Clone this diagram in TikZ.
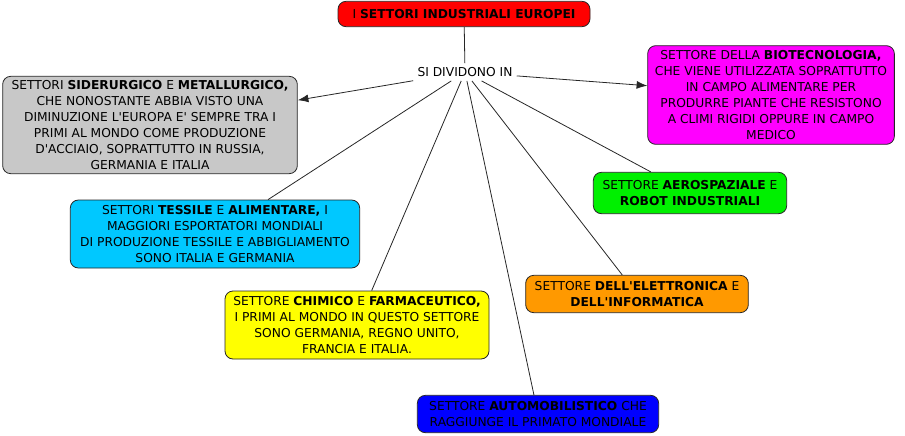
\documentclass[tikz,border=0pt]{standalone}
\usepackage{fontspec}
\setmainfont{DejaVu Sans}[Ligatures=TeXOff]
\usetikzlibrary{positioning,arrows.meta}

\definecolor{sectred}{RGB}{255,0,0}
\definecolor{sectgrey}{RGB}{200,200,200}
\definecolor{sectmagenta}{RGB}{255,0,255}
\definecolor{sectcyan}{RGB}{0,200,255}
\definecolor{sectgreen}{RGB}{0,240,0}
\definecolor{sectyellow}{RGB}{255,255,0}
\definecolor{sectorange}{RGB}{255,153,0}
\definecolor{sectblue}{RGB}{0,0,255}

\tikzset{
    sector/.style={draw=black!85, line width=0.6pt, rounded corners=6pt, align=center,
        font=\fontsize{9.2}{12}\selectfont, inner sep=1pt},
    link/.style={line width=0.6pt, draw=black!85},
    tip/.style={link, -{Latex[length=8pt,width=6pt]}}
}

\begin{document}
\begin{tikzpicture}[x=0.75pt,y=-0.75pt]
        \useasboundingbox (0,0) rectangle (905,435);
        \node[sector, fill=sectred, minimum width=189pt, minimum height=19pt] (title) at (464,14)
            {I \textbf{SETTORI INDUSTRIALI EUROPEI}};
        \node[font=\fontsize{9.2}{12}\selectfont, inner sep=3pt] (divide) at (465,72) {SI DIVIDONO IN};
        \node[sector, fill=sectgrey, minimum width=221pt, minimum height=73pt] (metal) at (150,125)
            {SETTORI \textbf{SIDERURGICO} E \textbf{METALLURGICO,}\\ CHE NONOSTANTE ABBIA VISTO UNA\\
             DIMINUZIONE L'EUROPA E' SEMPRE TRA I\\ PRIMI AL MONDO COME PRODUZIONE\\
             D'ACCIAIO, SOPRATTUTTO IN RUSSIA,\\ GERMANIA E ITALIA};
        \node[sector, fill=sectmagenta, minimum width=185pt, minimum height=74pt] (biotech) at (771,95)
            {SETTORE DELLA \textbf{BIOTECNOLOGIA,}\\ CHE VIENE UTILIZZATA SOPRATTUTTO\\
             IN CAMPO ALIMENTARE PER\\ PRODURRE PIANTE CHE RESISTONO\\
             A CLIMI RIGIDI OPPURE IN CAMPO\\ MEDICO};
        \node[sector, fill=sectcyan, minimum width=217pt, minimum height=51pt] (textile) at (215,234)
            {SETTORI \textbf{TESSILE} E \textbf{ALIMENTARE,} I\\ MAGGIORI ESPORTATORI MONDIALI\\
             DI PRODUZIONE TESSILE E ABBIGLIAMENTO\\ SONO ITALIA E GERMANIA};
        \node[sector, fill=sectgreen, minimum width=145pt, minimum height=31pt] (aero) at (690,193)
            {SETTORE \textbf{AEROSPAZIALE} E\\ \textbf{ROBOT INDUSTRIALI}};
        \node[sector, fill=sectyellow, minimum width=198pt, minimum height=51pt] (chem) at (357,325)
            {SETTORE \textbf{CHIMICO} E \textbf{FARMACEUTICO,}\\ I PRIMI AL MONDO IN QUESTO SETTORE\\
             SONO GERMANIA, REGNO UNITO,\\ FRANCIA E ITALIA.};
        \node[sector, fill=sectorange, minimum width=167pt, minimum height=28pt] (elec) at (637,294)
            {SETTORE \textbf{DELL'ELETTRONICA} E\\ \textbf{DELL'INFORMATICA}};
        \node[sector, fill=sectblue, minimum width=181pt, minimum height=28pt] (auto) at (538,414)
            {SETTORE \textbf{AUTOMOBILISTICO} CHE\\ RAGGIUNGE IL PRIMATO MONDIALE};
        \draw[link] (title) -- (divide);
        \draw[tip] (divide) -- (metal);
        \draw[tip] (divide) -- (biotech);
        \draw[link] (divide) -- (textile);
        \draw[link] (divide) -- (chem);
        \draw[link] (divide) -- (auto);
        \draw[link] (divide) -- (elec);
        \draw[link] (divide) -- (aero);
    \end{tikzpicture}
\end{document}
